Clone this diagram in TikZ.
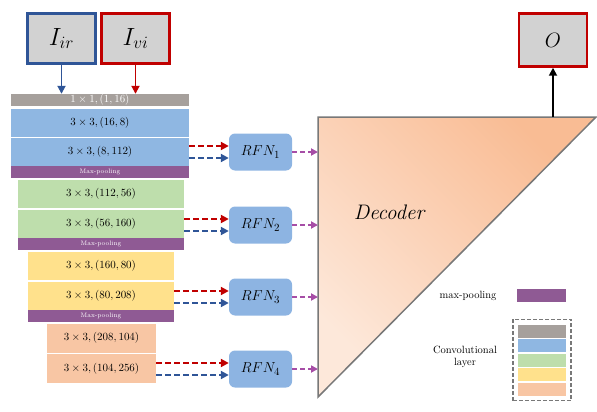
\documentclass[tikz,border=0pt]{standalone}
\usepackage{tikz}
\usetikzlibrary{arrows.meta,fit}

\definecolor{convgray}{RGB}{166,160,156}
\definecolor{convblue}{RGB}{143,183,226}
\definecolor{convgreen}{RGB}{190,222,172}
\definecolor{convyellow}{RGB}{255,225,140}
\definecolor{convorange}{RGB}{248,198,164}
\definecolor{poolpurple}{RGB}{143,90,148}
\definecolor{rfnblue}{RGB}{141,180,226}
\definecolor{irblue}{RGB}{47,85,151}
\definecolor{vired}{RGB}{192,0,0}
\definecolor{fusepurple}{RGB}{166,77,166}
\definecolor{decolight}{RGB}{253,232,218}
\definecolor{decodark}{RGB}{249,188,148}
\definecolor{boxgray}{RGB}{210,210,210}
\definecolor{edgegray}{RGB}{120,120,120}

\tikzset{
	conv/.style={rectangle, inner sep=0pt, minimum height=28, font=\fontsize{10.5}{12}\selectfont},
	pool/.style={rectangle, inner sep=0pt, fill=poolpurple, text=white, minimum height=12, font=\fontsize{6.5}{7}\selectfont},
	imgbox/.style={rectangle, fill=boxgray, line width=2.5pt, minimum width=68, minimum height=50, font=\fontsize{24}{26}\selectfont},
	rfn/.style={rectangle, rounded corners=6pt, fill=rfnblue, minimum width=63, minimum height=37, font=\fontsize{15}{17}\selectfont},
	featarrow/.style={line width=2pt, dash pattern=on 6pt off 3pt, -{Triangle[length=8pt,width=8pt]}},
	fusearrow/.style={fusepurple, line width=2pt, dash pattern=on 5pt off 3pt, -{Triangle[length=7pt,width=7pt]}},
	inarrow/.style={line width=1.8pt, -{Triangle[length=8pt,width=8pt]}},
	swatch/.style={rectangle, inner sep=0pt, minimum width=48, minimum height=13},
	legendbox/.style={draw=edgegray, line width=1.5pt, dash pattern=on 4pt off 2pt, inner sep=5pt},
	legendtext/.style={font=\fontsize{10.5}{12}\selectfont, align=center}
}

\begin{document}
\begin{tikzpicture}[x=1pt,y=-1pt]
	\useasboundingbox (0,0) rectangle (597,412);

	\node[imgbox, draw=irblue] (ir) at (61.5,38.5) {$I_{ir}$};
	\node[imgbox, draw=vired] (vi) at (135.5,38.5) {$I_{vi}$};

	\node[conv, fill=convgray, text=white, minimum width=178, minimum height=12] (l0) at (100,100) {$1\times 1,(1,16)$};
	\node[conv, fill=convblue, minimum width=178] (b1) at (100,123) {$3\times 3,(16,8)$};
	\node[conv, fill=convblue, minimum width=178] (b2) at (100,152) {$3\times 3,(8,112)$};
	\node[pool, minimum width=178] (p1) at (100,172) {Max-pooling};

	\node[conv, fill=convgreen, minimum width=166] (g1) at (101,194) {$3\times 3,(112,56)$};
	\node[conv, fill=convgreen, minimum width=166] (g2) at (101,224) {$3\times 3,(56,160)$};
	\node[pool, minimum width=166] (p2) at (101,244) {Max-pooling};

	\node[conv, fill=convyellow, minimum width=146] (y1) at (101,266) {$3\times 3,(160,80)$};
	\node[conv, fill=convyellow, minimum width=146] (y2) at (101,295.5) {$3\times 3,(80,208)$};
	\node[pool, minimum width=146] (p3) at (101,315.5) {Max-pooling};

	\node[conv, fill=convorange, minimum width=109, minimum height=29] (o1) at (101.5,338) {$3\times 3,(208,104)$};
	\node[conv, fill=convorange, minimum width=109, minimum height=29] (o2) at (101.5,368.5) {$3\times 3,(104,256)$};

	\draw[inarrow, irblue] (ir.south) -- (ir.south |- l0.north);
	\draw[inarrow, vired] (vi.south) -- (vi.south |- l0.north);

	\node[rfn] (r1) at (260.5,152) {$RFN_1$};
	\node[rfn] (r2) at (260.5,225) {$RFN_2$};
	\node[rfn] (r3) at (260.5,297) {$RFN_3$};
	\node[rfn] (r4) at (260.5,369) {$RFN_4$};

	\coordinate (d1) at (318,117);
	\coordinate (d2) at (596,117);
	\coordinate (d3) at (318,397);
	\path[top color=decodark, bottom color=decolight, shading angle=-45, draw=edgegray, line width=1.5pt] (d1) -- (d2) -- (d3) -- cycle;
	\node[font=\fontsize{21}{24}\selectfont\itshape] (dec) at (389,212) {Decoder};

	\foreach \s/\r in {b2/r1, g2/r2, y2/r3, o2/r4} {
		\draw[featarrow, vired] ([yshift=6pt]\s.east |- \r.west) -- ([yshift=6pt]\r.west);
		\draw[featarrow, irblue] ([yshift=-6pt]\s.east |- \r.west) -- ([yshift=-6pt]\r.west);
		\draw[fusearrow] (\r.east) -- (\r.east -| d1);
	}

	\node[imgbox, draw=vired, minimum height=53, font=\fontsize{20}{22}\selectfont] (out) at (553,40) {$O$};
	\draw[inarrow, black] (out.south |- d1) -- (out.south);

	\node[legendtext] (mplabel) at (468,296) {max-pooling};
	\node[swatch, fill=poolpurple, minimum width=49] (mpkey) at (541.5,295.5) {};
	\foreach \c [count=\i] in {convgray,convblue,convgreen,convyellow,convorange}
		\node[swatch, fill=\c] (key\i) at (542,{331+14.5*(\i-1)}) {};
	\node[legendbox, fit=(key1)(key5)] (convkey) {};
	\node[legendtext] (convlabel) at (465,357) {Convolutional\\layer};
\end{tikzpicture}
\end{document}
